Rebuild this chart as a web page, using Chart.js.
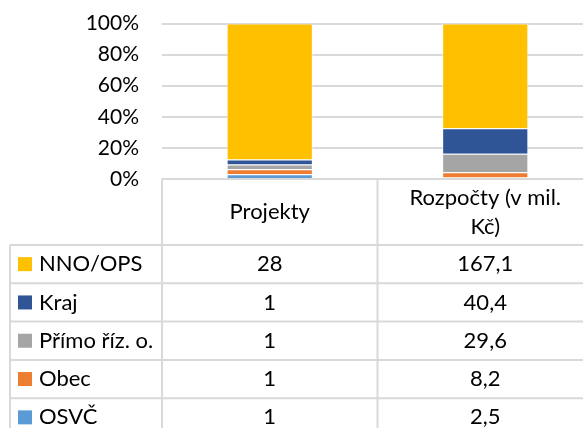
<!DOCTYPE html>
<html>
<head>
<meta charset="utf-8">
<script src="https://cdn.jsdelivr.net/npm/chart.js@4/dist/chart.umd.min.js"></script>
<style>
  html, body { margin: 0; padding: 0; background: #fff; overflow: hidden; }
  #wrap { width: 600px; height: 428px; }
</style>
</head>
<body>
<div id="wrap"><canvas id="myChart" width="600" height="428"></canvas></div>
<script>
// categories (columns of the data table)
const categories = ['Projekty', ['Rozpočty (v mil.', 'Kč)']];
// series, top row of the table first
const seriesNames = ['NNO/OPS', 'Kraj', 'Přímo říz. o.', 'Obec', 'OSVČ'];
const seriesColors = ['#FFC000', '#2F5597', '#A5A5A5', '#ED7D31', '#5B9BD5'];
const projekty = [28, 1, 1, 1, 1];
const rozpocty = [167.1, 40.4, 29.6, 8.2, 2.5];
const yTicks = [0, 20, 40, 60, 80, 100];

const FONT = 'Lato';
const TICK_SIZE = 21;
const TABLE_SIZE = 22;
const LINE = '#d9d9d9';

const columns = [projekty, rozpocty];
const totals = columns.map(c => c.reduce((a, b) => a + b, 0));

// stacked from the bottom: OSVČ first, NNO/OPS last
const datasets = seriesNames.map((name, i) => ({
    label: name,
    data: columns.map((c, j) => c[i] / totals[j] * 100),
    backgroundColor: seriesColors[i],
    borderColor: 'rgba(255,255,255,0.5)',
    borderWidth: 1,
    barPercentage: 0.4,
    categoryPercentage: 1,
})).reverse();

function fmt(v, j) {
    return j === 0 ? String(v) : v.toFixed(1).replace('.', ',');
}

// gridlines running past the plot edge, like in the original
const gridPlugin = {
    id: 'grid',
    beforeDatasetsDraw(chart) {
        const ctx = chart.ctx;
        const y = chart.scales.y;
        const area = chart.chartArea;
        ctx.save();
        ctx.strokeStyle = LINE;
        ctx.lineWidth = 2;
        yTicks.slice(1).forEach(t => {
            const py = Math.round(y.getPixelForValue(t));
            ctx.beginPath();
            ctx.moveTo(area.left, py);
            ctx.lineTo(chart.width, py);
            ctx.stroke();
        });
        ctx.restore();
    }
};

// data table under the bars
const tablePlugin = {
    id: 'dataTable',
    afterDraw(chart) {
        const ctx = chart.ctx;
        const x = chart.scales.x;
        const area = chart.chartArea;
        const top = area.bottom;
        const headerH = 66;
        const rowH = 38.3;
        const tableLeft = 10;
        const colW = x.getPixelForValue(1) - x.getPixelForValue(0);
        const bounds = [area.left, area.left + colW, area.left + 2 * colW];
        const rowsTop = top + headerH;
        const bottom = rowsTop + rowH * seriesNames.length;

        ctx.save();
        ctx.strokeStyle = LINE;
        ctx.lineWidth = 2;
        ctx.beginPath();
        ctx.moveTo(area.left, top);
        ctx.lineTo(chart.width, top);
        for (let r = 0; r <= seriesNames.length; r++) {
            const py = rowsTop + r * rowH;
            ctx.moveTo(tableLeft, py);
            ctx.lineTo(chart.width, py);
        }
        ctx.moveTo(tableLeft, rowsTop);
        ctx.lineTo(tableLeft, bottom);
        bounds.forEach(bx => {
            ctx.moveTo(bx, top);
            ctx.lineTo(bx, bottom);
        });
        ctx.stroke();

        ctx.fillStyle = '#000';
        ctx.font = TABLE_SIZE + 'px ' + FONT;
        ctx.textBaseline = 'middle';
        ctx.textAlign = 'center';
        // header
        categories.forEach((lab, j) => {
            const cx = x.getPixelForValue(j);
            const lines = Array.isArray(lab) ? lab : [lab];
            const lh = 29;
            const cy = top + headerH / 2 - (lines.length - 1) * lh / 2;
            lines.forEach((l, k) => ctx.fillText(l, cx, cy + k * lh));
        });
        // rows
        seriesNames.forEach((name, i) => {
            const cy = rowsTop + i * rowH + rowH / 2;
            ctx.fillStyle = seriesColors[i];
            ctx.fillRect(18, cy - 7, 14, 14);
            ctx.fillStyle = '#000';
            ctx.textAlign = 'left';
            ctx.fillText(name, 39, cy);
            ctx.textAlign = 'center';
            columns.forEach((c, j) => {
                ctx.fillText(fmt(c[i], j), x.getPixelForValue(j), cy);
            });
        });
        ctx.restore();
    }
};

new Chart(document.getElementById('myChart').getContext('2d'), {
    type: 'bar',
    data: {
        labels: categories,
        datasets: datasets,
    },
    options: {
        responsive: false,
        animation: false,
        layout: {
            padding: { top: 23, bottom: 249, right: 7, left: 0 }
        },
        plugins: {
            legend: { display: false },
            tooltip: { enabled: false },
        },
        scales: {
            x: {
                stacked: true,
                display: false,
            },
            y: {
                stacked: true,
                min: 0,
                max: 100,
                afterFit: s => { s.width = 162; },
                afterBuildTicks: s => { s.ticks = yTicks.map(v => ({ value: v })); },
                grid: { display: false, drawTicks: false },
                border: { display: false },
                ticks: {
                    padding: 23,
                    color: '#000',
                    // tiny line height so the labels do not push the plot down
                    font: { family: FONT, size: TICK_SIZE, lineHeight: 0.05 },
                    callback: v => v + '%',
                }
            }
        }
    },
    plugins: [gridPlugin, tablePlugin]
});
</script>
</body>
</html>
